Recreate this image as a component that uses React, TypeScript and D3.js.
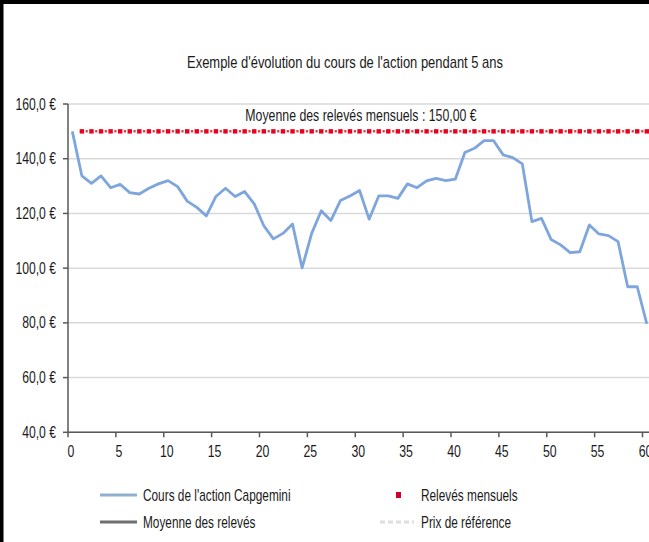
import * as d3 from "d3";

// cours mensuel de l'action (mois 0 à 60)
const cours: number[] = [
  150, 133.7, 131.0, 133.7, 129.4, 130.6, 127.6, 127.1, 129.2, 130.8,
  132.0, 129.8, 124.5, 122.2, 119.1, 126.2, 129.2, 126.2, 128.0, 123.5,
  115.5, 110.7, 112.7, 116.1, 100.1, 112.7, 121.0, 117.4, 124.7, 126.4,
  128.4, 117.9, 126.4, 126.4, 125.5, 130.8, 129.4, 131.9, 132.8, 132.0,
  132.5, 142.3, 143.8, 146.6, 146.6, 141.4, 140.4, 138.1, 117.0, 118.2,
  110.5, 108.5, 105.7, 106.0, 115.8, 112.5, 111.9, 109.7, 93.2, 93.2,
  79.6,
];
const moyenne = 150;
const releves: number[] = d3.range(1, 61);
const yTicks = [40, 60, 80, 100, 120, 140, 160];
const xTicks = [0, 5, 10, 15, 20, 25, 30, 35, 40, 45, 50, 55, 60];
const title = "Exemple d'évolution du cours de l'action pendant 5 ans";
const annotation = "Moyenne des relevés mensuels : 150,00 €";
const legendItems = [
  { label: "Cours de l'action Capgemini", kind: "blue" },
  { label: "Relevés mensuels", kind: "marker" },
  { label: "Moyenne des relevés", kind: "gray" },
  { label: "Prix de référence", kind: "dash" },
];

const W = 649;
const H = 542;
const font = "'Liberation Sans', Arial, sans-serif";
const offset = 0.45; // décalage des points par rapport aux graduations

const fmt = (v: number) => v.toFixed(1).replace(".", ",") + " €";

// texte condensé horizontalement (imitation d'Arial Narrow)
function NText({ x, y, anchor = "start", size = 16, sx = 0.77, children }: any) {
  return (
    <text
      transform={`translate(${x},${y}) scale(${sx},1)`}
      textAnchor={anchor}
      dy="0.35em"
      fontSize={size}
      fill="#1a1a1a"
    >
      {children}
    </text>
  );
}

export default function App() {
  const x = d3.scaleLinear().domain([0, 60]).range([68, 642.5]);
  const y = d3.scaleLinear().domain([40, 160]).range([432.3, 104]);

  const line = d3
    .line<number>()
    .x((d, i) => x(i + offset))
    .y((d) => y(d));

  const legendPos = [
    { x: 100, y: 495 },
    { x: 380, y: 495 },
    { x: 100, y: 522 },
    { x: 380, y: 522 },
  ];

  return (
    <svg
      width={W}
      height={H}
      style={{ position: "absolute", left: 0, top: 0, background: "#fff" }}
      fontFamily={font}
    >
      <rect x={0} y={0} width={W} height={H} fill="#fff" />
      <rect x={0} y={0} width={W} height={4} fill="#000" />
      <rect x={0} y={0} width={3.5} height={H} fill="#000" />

      <NText x={345} y={62} anchor="middle" sx={0.81}>{title}</NText>

      {/* grille */}
      {yTicks.map((t) => (
        <line key={"g" + t} x1={x(0)} x2={W} y1={y(t)} y2={y(t)} stroke="#d9d9d9" strokeWidth={1.5} />
      ))}

      {/* axe Y */}
      <line x1={x(0)} x2={x(0)} y1={y(160)} y2={y(40)} stroke="#595959" strokeWidth={1.5} />
      {yTicks.map((t) => (
        <g key={"y" + t}>
          <line x1={x(0) - 5} x2={x(0)} y1={y(t)} y2={y(t)} stroke="#595959" strokeWidth={1.5} />
          <NText x={56} y={y(t)} anchor="end" sx={0.76}>{fmt(t)}</NText>
        </g>
      ))}

      {/* axe X */}
      <line x1={x(0)} x2={W} y1={y(40)} y2={y(40)} stroke="#595959" strokeWidth={1.5} />
      {xTicks.map((t) => (
        <g key={"x" + t}>
          <line x1={x(t)} x2={x(t)} y1={y(40)} y2={y(40) + 5} stroke="#595959" strokeWidth={1.5} />
          <NText x={x(t) + 3} y={451} anchor="middle">{t}</NText>
        </g>
      ))}

      {/* relevés mensuels */}
      <line
        x1={x(1 + offset) - 1.1}
        x2={W}
        y1={y(moyenne)}
        y2={y(moyenne)}
        stroke="#e0404c"
        strokeWidth={2.5}
        strokeDasharray="2.2 2.59"
      />
      {releves.map((m) => (
        <rect key={"r" + m} x={x(m + offset) - 2.2} y={y(moyenne) - 2.2} width={4.4} height={4.4} fill="#e8001c" />
      ))}

      <NText x={361} y={115} anchor="middle">{annotation}</NText>

      {/* cours */}
      <path d={line(cours) ?? ""} fill="none" stroke="#7ea6dd" strokeWidth={2.8} strokeLinejoin="round" />

      {/* légende */}
      {legendItems.map((it, i) => {
        const p = legendPos[i];
        return (
          <g key={it.label}>
            {it.kind === "blue" && (
              <line x1={p.x} x2={p.x + 37} y1={p.y} y2={p.y} stroke="#8fb0d0" strokeWidth={3} />
            )}
            {it.kind === "gray" && (
              <line x1={p.x} x2={p.x + 37} y1={p.y} y2={p.y} stroke="#6f6f6f" strokeWidth={3} />
            )}
            {it.kind === "marker" && (
              <rect x={p.x + 16} y={p.y - 3} width={5} height={6} fill="#d0002c" />
            )}
            {it.kind === "dash" && (
              <line x1={p.x} x2={p.x + 34} y1={p.y} y2={p.y} stroke="#dedede" strokeWidth={3} strokeDasharray="5 3" />
            )}
            <NText x={p.x + (it.kind === "blue" || it.kind === "gray" ? 43 : 41)} y={p.y} sx={0.74}>
              {it.label}
            </NText>
          </g>
        );
      })}
    </svg>
  );
}
